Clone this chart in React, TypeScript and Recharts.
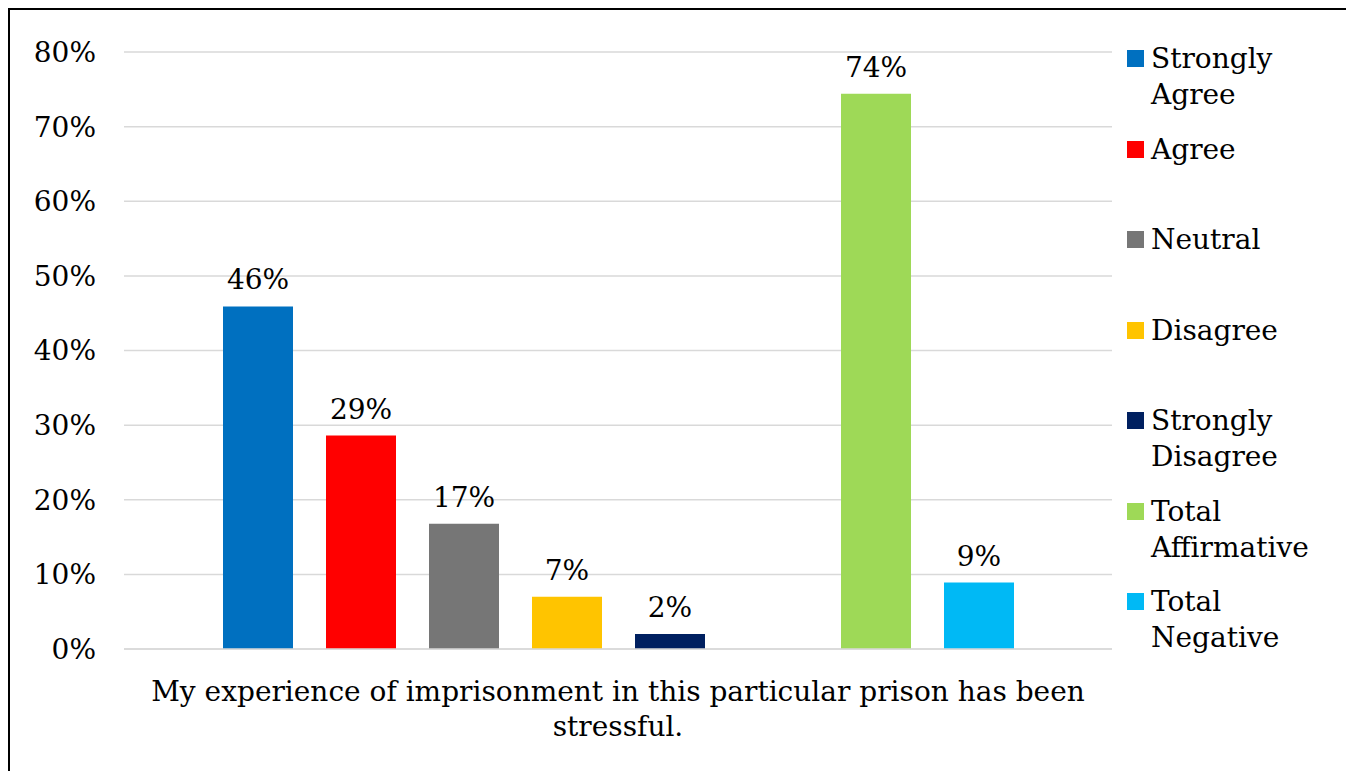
import { BarChart, Bar, XAxis, YAxis, CartesianGrid, LabelList } from "recharts";

const categories = ["My experience of imprisonment in this particular prison has been stressful."];
const seriesNames = ["Strongly Agree", "Agree", "Neutral", "Disagree", "Strongly Disagree", "Total Affirmative", "Total Negative"];
const seriesValues = [45.9, 28.6, 16.8, 7.0, 2.0, 74.4, 8.9];
const seriesColors = ["#0070C0", "#FF0000", "#767676", "#FFC400", "#002060", "#9ED957", "#00B9F5"];
const yTicks = [0, 10, 20, 30, 40, 50, 60, 70, 80];

const FONT = "'DejaVu Serif', Georgia, serif";

const data = categories.map((category) => {
  const row: Record<string, string | number | null> = { category, gap: null };
  seriesNames.forEach((name, i) => {
    row[name] = seriesValues[i];
  });
  return row;
});

// simple word wrap by character count
const wrap = (text: string, maxChars: number) => {
  const lines: string[] = [];
  let cur = "";
  text.split(" ").forEach((w) => {
    const next = cur ? cur + " " + w : w;
    if (next.length > maxChars && cur) {
      lines.push(cur);
      cur = w;
    } else {
      cur = next;
    }
  });
  if (cur) lines.push(cur);
  return lines;
};

const CategoryTick = (props: any) => {
  const { x, y, payload } = props;
  const lines = wrap(String(payload.value), 66);
  return (
    <text x={x} y={y + 50} textAnchor="middle" fontSize={28} fontFamily={FONT} fill="#000">
      {lines.map((l, i) => (
        <tspan key={i} x={x} dy={i === 0 ? 0 : 35}>
          {l}
        </tspan>
      ))}
    </text>
  );
};

const renderBar = (name: string, i: number) => (
  <Bar key={name} dataKey={name} fill={seriesColors[i]} isAnimationActive={false}>
    <LabelList
      dataKey={name}
      position="top"
      offset={17}
      formatter={(v: any) => `${Math.round(Number(v))}%`}
      style={{ fontSize: 28, fontFamily: FONT, fill: "#000" }}
    />
  </Bar>
);

export default function App() {
  return (
    <div
      style={{
        position: "relative",
        width: 1340,
        height: 780,
        border: "2px solid #000",
        background: "#fff",
        fontFamily: FONT,
      }}
    >
      <BarChart
        width={1340}
        height={760}
        data={data}
        margin={{ top: 42, right: 238, bottom: 0, left: 0 }}
        barSize={70}
        barGap={33}
      >
        <CartesianGrid vertical={false} stroke="#d9d9d9" strokeWidth={1.5} />
        <XAxis
          dataKey="category"
          height={121}
          tickLine={false}
          tickSize={0}
          axisLine={{ stroke: "#d9d9d9", strokeWidth: 1.5 }}
          tick={<CategoryTick />}
          interval={0}
        />
        <YAxis
          width={114}
          domain={[0, 80]}
          ticks={yTicks}
          tickFormatter={(v) => `${v}%`}
          axisLine={false}
          tickLine={false}
          tickSize={0}
          tickMargin={28}
          tick={{ fontSize: 28, fontFamily: FONT, fill: "#000" }}
        />
        {seriesNames.slice(0, 5).map((n, i) => renderBar(n, i))}
        <Bar dataKey="gap" fill="none" isAnimationActive={false} legendType="none" />
        {seriesNames.slice(5).map((n, i) => renderBar(n, i + 5))}
      </BarChart>
      {seriesNames.map((name, i) => (
        <div key={name}>
          <div
            style={{
              position: "absolute",
              left: 1117,
              top: 40 + 90.5 * i,
              width: 17,
              height: 17,
              background: seriesColors[i],
            }}
          />
          <div
            style={{
              position: "absolute",
              left: 1141,
              top: 31 + 90.5 * i,
              width: 175,
              fontSize: 28,
              lineHeight: "36px",
              color: "#000",
            }}
          >
            {name}
          </div>
        </div>
      ))}
    </div>
  );
}
